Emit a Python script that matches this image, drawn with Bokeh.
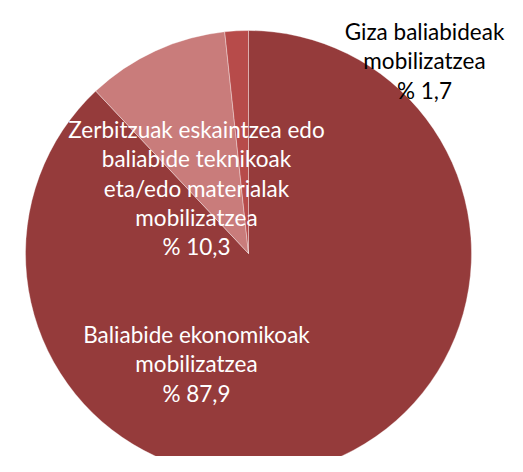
import numpy as np
from bokeh.plotting import figure
from bokeh.models import ColumnDataSource, Range1d
from bokeh.core.properties import value
from bokeh.embed import file_html
from bokeh.resources import INLINE

# data
categories = ["Baliabide ekonomikoak mobilizatzea",
              "Zerbitzuak eskaintzea edo baliabide teknikoak eta/edo materialak mobilizatzea",
              "Giza baliabideak mobilizatzea"]
shares = [87.9, 10.3, 1.7]
colors = ["#953B3B", "#C97C7B", "#B74B4A"]
label_lines = [
    ["Baliabide ekonomikoak", "mobilizatzea", "% 87,9"],
    ["Zerbitzuak eskaintzea edo", "baliabide teknikoak", "eta/edo materialak", "mobilizatzea", "% 10,3"],
    ["Giza baliabideak", "mobilizatzea", "% 1,7"],
]
label_colors = ["white", "white", "black"]

W, H = 507, 456
CX, CY, R = 248, 253, 223  # pixel coords from top-left
# label anchors (center x, first baseline y) from top-left
label_anchor = [(196, 334), (196, 129), (424, 31)]
LINE_H = 29.3
FONT = "Lato"
FSIZE = "22.5px"

p = figure(width=W, height=H, output_backend="svg", toolbar_location=None,
           x_range=Range1d(0, W), y_range=Range1d(0, H), min_border=0)
p.axis.visible = False
p.grid.visible = False
p.outline_line_color = None
p.background_fill_color = "white"

frac = np.array(shares) / sum(shares)
cum = np.concatenate([[0], np.cumsum(frac)])
start = np.pi / 2 - 2 * np.pi * cum[:-1]
end = np.pi / 2 - 2 * np.pi * cum[1:]

src = ColumnDataSource(dict(start=start, end=end, color=colors, cat=categories))
p.wedge(x=CX, y=H - CY, radius=R, start_angle="start", end_angle="end",
        direction="clock", fill_color="color", line_color="white", line_alpha=0.35,
        line_width=1, source=src)

xs, ys, ts, cs = [], [], [], []
for lines, (ax, ay), col in zip(label_lines, label_anchor, label_colors):
    for i, t in enumerate(lines):
        xs.append(ax)
        ys.append(H - (ay + i * LINE_H))
        ts.append(t)
        cs.append(col)
tsrc = ColumnDataSource(dict(x=xs, y=ys, t=ts, c=cs))
p.text(x="x", y="y", text="t", text_color="c", source=tsrc,
       text_align="center", text_baseline="alphabetic",
       text_font=value(FONT), text_font_size=FSIZE)

open("out.html", "w").write(file_html(p, INLINE))
